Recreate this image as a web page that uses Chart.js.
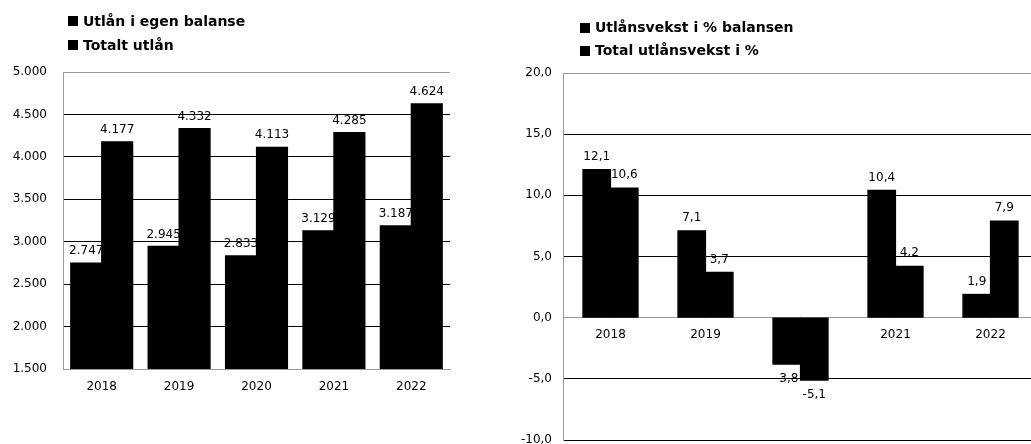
<!DOCTYPE html>
<html>
<head>
<meta charset="utf-8">
<script src="https://cdn.jsdelivr.net/npm/chart.js@4/dist/chart.umd.min.js"></script>
<style>
body { margin: 0; width: 1031px; height: 444px; overflow: hidden; background: #fff; font-family: "DejaVu Sans", sans-serif; }
.box { position: absolute; top: 0; }
.legend { position: absolute; font-weight: bold; font-size: 14px; color: #000; white-space: nowrap; }
.legend div { display: flex; align-items: center; }
.legend span.sq { display: inline-block; width: 10px; height: 10px; background: #000; margin-right: 5px; }
</style>
</head>
<body>
<div class="box" style="left:0;width:470px;height:444px"><canvas id="chart-left" width="470" height="444"></canvas></div>
<div class="box" style="left:500px;width:560px;height:460px"><canvas id="chart-right" width="560" height="460"></canvas></div>
<div class="legend" id="legend-left" style="left:68px;top:9px;line-height:24px"></div>
<div class="legend" id="legend-right" style="left:580px;top:16px;line-height:23px"></div>
<script>
// data
var years = ["2018", "2019", "2020", "2021", "2022"];
var utlanEgen = [2747, 2945, 2833, 3129, 3187];
var utlanTotalt = [4177, 4332, 4113, 4285, 4624];
var vekstBalansen = [12.1, 7.1, -3.8, 10.4, 1.9];
var vekstTotal = [10.6, 3.7, -5.1, 4.2, 7.9];
var leftNames = ["Utlån i egen balanse", "Totalt utlån"];
var rightNames = ["Utlånsvekst i % balansen", "Total utlånsvekst i %"];

function fmtThousand(v) {
	var s = String(Math.abs(Math.round(v)));
	s = s.replace(/\B(?=(\d{3})+(?!\d))/g, ".");
	return (v < 0 ? "-" : "") + s;
}
function fmtPct(v) {
	return v.toFixed(1).replace(".", ",");
}

function makeLegend(id, names) {
	var html = "";
	for (let i = 0; i < names.length; i++) {
		html += '<div><span class="sq"></span>' + names[i] + '</div>';
	}
	document.getElementById(id).innerHTML = html;
}
makeLegend("legend-left", leftNames);
makeLegend("legend-right", rightNames);

// labels drawn first so gridlines and bars go over them, like the original
var barLabels = {
	id: "barLabels",
	beforeDraw: function(chart, args, opts) {
		var ctx = chart.ctx;
		ctx.save();
		ctx.font = "12px 'DejaVu Sans'";
		ctx.fillStyle = "#000";
		ctx.textAlign = "center";
		ctx.textBaseline = "middle";
		chart.data.datasets.forEach(function(ds, di) {
			var meta = chart.getDatasetMeta(di);
			meta.data.forEach(function(bar, i) {
				var v = ds.data[i];
				var y = v >= 0 ? bar.y - opts.up : bar.y + opts.down;
				ctx.fillText(opts.fmt(v), bar.x, y);
			});
		});
		ctx.restore();
	}
};

var font12 = { family: "DejaVu Sans", size: 12 };

new Chart(document.getElementById("chart-left").getContext("2d"), {
	type: "bar",
	data: {
		labels: years,
		datasets: [
			{ label: leftNames[0], data: utlanEgen, backgroundColor: "#000", borderWidth: 0, inflateAmount: 0.6 },
			{ label: leftNames[1], data: utlanTotalt, backgroundColor: "#000", borderWidth: 0, inflateAmount: 0.6 }
		]
	},
	options: {
		responsive: false,
		animation: false,
		datasets: { bar: { categoryPercentage: 0.8, barPercentage: 1.0 } },
		layout: { padding: { top: 72, right: 20, bottom: 45, left: 0 } },
		plugins: {
			legend: { display: false },
			tooltip: { enabled: false },
			barLabels: { up: 12, down: 14, fmt: fmtThousand }
		},
		scales: {
			x: {
				afterFit: function(s) { s.height = 30; },
				grid: { display: false, drawTicks: false },
				border: { color: "#999", width: 1 },
				ticks: { color: "#000", font: font12, padding: 11 }
			},
			y: {
				min: 1500,
				max: 5000,
				afterFit: function(s) { s.width = 63; },
				grid: {
					drawTicks: false,
					lineWidth: 1,
					color: function(c) {
						var v = c.tick ? c.tick.value : 0;
						return (v == 5000 || v == 1500) ? "#999" : "#000";
					}
				},
				border: { color: "#999", width: 1 },
				ticks: {
					stepSize: 500,
					color: "#000",
					font: font12,
					padding: 16,
					callback: function(v) { return fmtThousand(v); }
				}
			}
		}
	},
	plugins: [barLabels]
});

new Chart(document.getElementById("chart-right").getContext("2d"), {
	type: "bar",
	data: {
		labels: years,
		datasets: [
			{ label: rightNames[0], data: vekstBalansen, backgroundColor: "#000", borderWidth: 0, inflateAmount: 0.6 },
			{ label: rightNames[1], data: vekstTotal, backgroundColor: "#000", borderWidth: 0, inflateAmount: 0.6 }
		]
	},
	options: {
		responsive: false,
		animation: false,
		datasets: { bar: { categoryPercentage: 0.58, barPercentage: 1.0 } },
		layout: { padding: { top: 73, right: 22, bottom: 20, left: 0 } },
		plugins: {
			legend: { display: false },
			tooltip: { enabled: false },
			barLabels: { up: 13, down: 15, fmt: fmtPct }
		},
		scales: {
			x: {
				position: { y: 0 },
				grid: { display: false, drawTicks: false },
				border: { color: "#999", width: 1 },
				ticks: { color: "#000", font: font12, padding: 10 }
			},
			y: {
				min: -10,
				max: 20,
				afterFit: function(s) { s.width = 63; },
				grid: {
					drawTicks: false,
					lineWidth: 1,
					color: function(c) {
						var v = c.tick ? c.tick.value : 0;
						return (v == 20 || v == 0) ? "#999" : "#000";
					}
				},
				border: { color: "#999", width: 1 },
				ticks: {
					stepSize: 5,
					color: "#000",
					font: font12,
					padding: 11,
					callback: function(v) { return fmtPct(v); }
				}
			}
		}
	},
	plugins: [barLabels]
});
</script>
</body>
</html>
